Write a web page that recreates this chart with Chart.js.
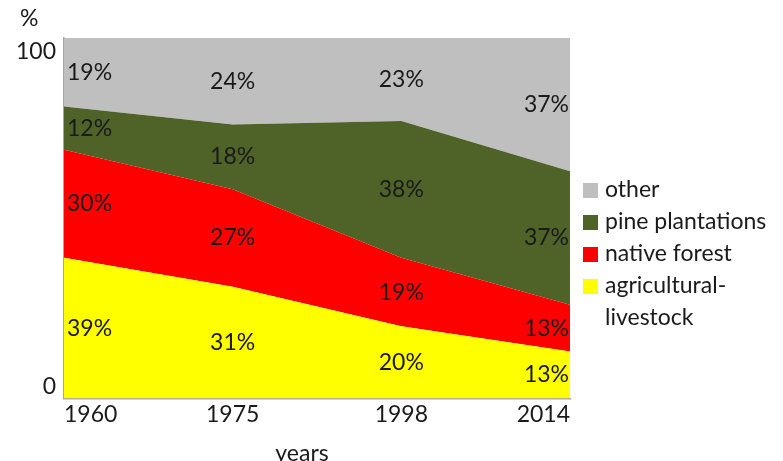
<!DOCTYPE html>
<html>
<head>
<meta charset="utf-8">
<script src="https://cdn.jsdelivr.net/npm/chart.js@4"></script>
<style>
	html, body { margin: 0; padding: 0; background: #fff; }
	#wrap { width: 783px; height: 461px; position: relative; }
</style>
</head>
<body>
<div id="wrap"><canvas id="chart"></canvas></div>
<script>
// land use share per year (%)
var years = ['1960', '1975', '1998', '2014'];
var agricultural = [39, 31, 20, 13];
var nativeForest = [30, 27, 19, 13];
var pine = [12, 18, 38, 37];
var other = [19, 24, 23, 37];
var yTicks = [0, 100];

var font_family = "Lato, 'Open Sans', sans-serif";
var font_size = 23;
var text_color = '#1a1a1a';

var series = [
	{ label: ['agricultural-', 'livestock'], data: agricultural, color: '#FFFF00' },
	{ label: ['native forest'], data: nativeForest, color: '#FF0000' },
	{ label: ['pine plantations'], data: pine, color: '#4F6228' },
	{ label: ['other'], data: other, color: '#BFBFBF' }
];

// percentage labels in the middle of each band, axis texts and the legend
var decorations = {
	id: 'decorations',
	afterDatasetsDraw: function(chart) {
		var ctx = chart.ctx,
			x_scale = chart.scales.x,
			y_scale = chart.scales.y,
			area = chart.chartArea;

		ctx.save();
		ctx.fillStyle = text_color;
		ctx.font = font_size + 'px ' + font_family;
		ctx.textBaseline = 'middle';

		var base = years.map(function() { return 0; });
		series.forEach(function(s) {
			s.data.forEach(function(v, j) {
				var x = x_scale.getPixelForValue(j);
				var y = y_scale.getPixelForValue(base[j] + v / 2);
				if (j === 0) {
					ctx.textAlign = 'left';
					x += 3;
				} else if (j === years.length - 1) {
					ctx.textAlign = 'right';
					x -= 1;
				} else {
					ctx.textAlign = 'center';
				}
				ctx.fillText(v + '%', x, y);
				base[j] += v;
			});
		});

		// y ticks sit just inside the axis ends
		ctx.textAlign = 'right';
		yTicks.forEach(function(t) {
			var y = y_scale.getPixelForValue(t);
			y += (t === 0) ? -12 : 14;
			ctx.fillText(String(t), area.left - 8, y);
		});
		ctx.textAlign = 'left';
		ctx.fillText('%', 20, 19);

		// x axis title
		ctx.textAlign = 'center';
		ctx.fillText('years', (area.left + area.right) / 2 - 15, area.bottom + 55);

		// legend, top entry first
		ctx.textAlign = 'left';
		var lx = area.right + 13, ly = 190;
		series.slice().reverse().forEach(function(s) {
			ctx.fillStyle = s.color;
			ctx.fillRect(lx, ly - 7, 15, 15);
			ctx.fillStyle = text_color;
			s.label.forEach(function(line, k) {
				ctx.fillText(line, lx + 22, ly + k * 32);
			});
			ly += 32 * s.label.length;
		});
		ctx.restore();
	}
};

new Chart(document.getElementById('chart'), {
	type: 'line',
	data: {
		labels: years,
		datasets: series.map(function(s, i) {
			return {
				label: s.label.join(' '),
				data: s.data,
				backgroundColor: s.color,
				borderWidth: 0,
				pointRadius: 0,
				fill: i === 0 ? 'origin' : '-1',
				tension: 0
			};
		})
	},
	options: {
		responsive: true,
		maintainAspectRatio: false,
		animation: false,
		layout: { padding: { left: 64, top: 38, right: 213, bottom: 31 } },
		plugins: {
			legend: { display: false },
			tooltip: { enabled: false }
		},
		scales: {
			x: {
				offset: false,
				grid: { display: false, drawTicks: false },
				border: { color: '#A6A6A6', width: 1.5 },
				ticks: {
					align: 'inner',
					color: text_color,
					font: { family: font_family, size: font_size },
					padding: 2,
					maxRotation: 0
				}
			},
			y: {
				stacked: true,
				min: 0,
				max: 100,
				grid: { display: false, drawTicks: false },
				border: { color: '#A6A6A6', width: 1.5 },
				ticks: { display: false }
			}
		}
	},
	plugins: [decorations]
});
</script>
</body>
</html>
